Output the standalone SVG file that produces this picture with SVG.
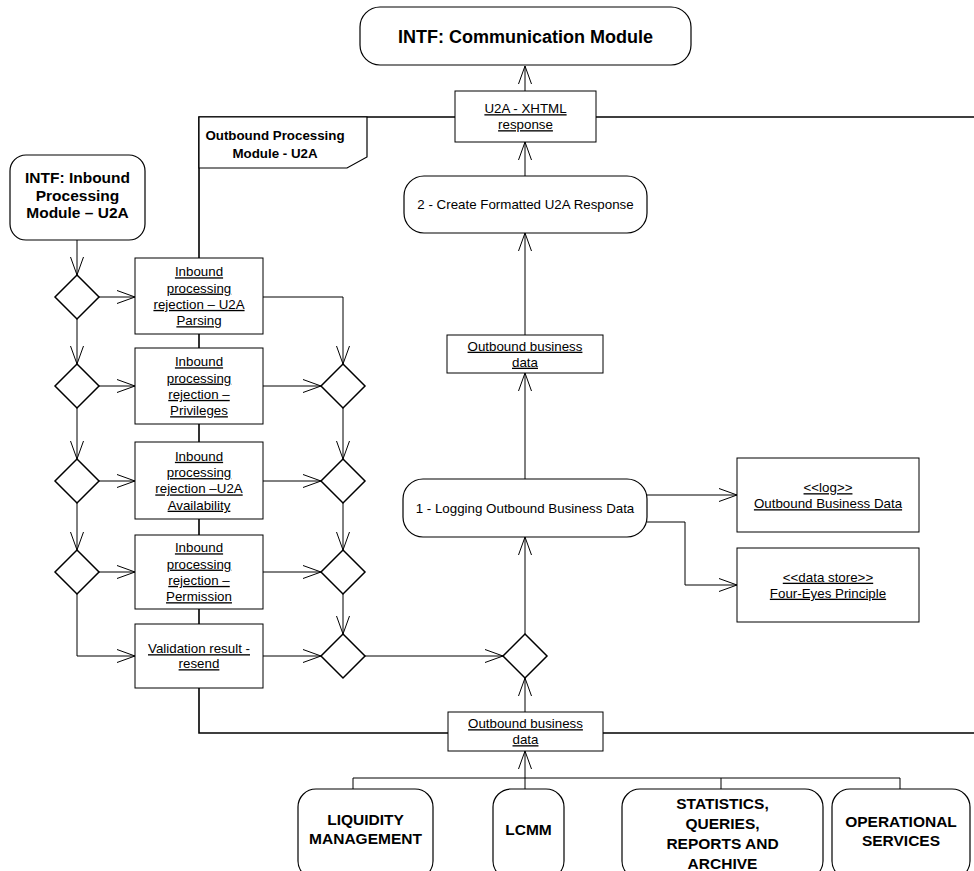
<svg xmlns="http://www.w3.org/2000/svg" width="974" height="871" viewBox="0 0 974 871">
<style>
.box{fill:#fff;stroke:#000;stroke-width:1}
.rnd{fill:#fff;stroke:#000;stroke-width:1.2}
.dia{fill:#fff;stroke:#000;stroke-width:1.5}
.frame{fill:none;stroke:#000;stroke-width:1.6}
.conn{fill:none;stroke:#000;stroke-width:1;marker-end:url(#arr)}
.line{fill:none;stroke:#000;stroke-width:1}
text{font-family:"Liberation Sans",Arial,sans-serif;text-anchor:middle;fill:#000}
.t{font-size:13.33px}
.u{text-decoration:underline}
.b{font-weight:bold;font-size:15.5px}
.tab{font-weight:bold;font-size:13.33px}
</style>
<defs>
<marker id="arr" markerUnits="userSpaceOnUse" markerWidth="20" markerHeight="16" viewBox="-19 -8 20 16" refX="0" refY="0" orient="auto" overflow="visible">
<path d="M-18,-6.5 L0,0 L-18,6.5" fill="none" stroke="#000" stroke-width="1"/>
</marker>
</defs>
<rect width="974" height="871" fill="#fff"/>

<g id="frame">
<path class="frame" d="M974,117 H199 V733 H974"/>
<path class="box" d="M199,117 H367 V157 L347,168 H199 Z" style="stroke-width:1.2"/>
<text class="tab"><tspan x="275" y="139.7">Outbound Processing</tspan><tspan x="275" y="157.7">Module - U2A</tspan></text>
</g>

<g id="connectors">
<path class="conn" d="M77,240 V275"/>
<path class="conn" d="M77,319 V364"/>
<path class="conn" d="M77,408 V459"/>
<path class="conn" d="M77,503 V550"/>
<path class="conn" d="M77,594 V656 H135"/>
<path class="conn" d="M99,297 H135"/>
<path class="conn" d="M99,386 H135"/>
<path class="conn" d="M99,481 H135"/>
<path class="conn" d="M99,572 H135"/>
<path class="conn" d="M263,297 H343 V364"/>
<path class="conn" d="M263,386 H321"/>
<path class="conn" d="M263,481 H321"/>
<path class="conn" d="M263,572 H321"/>
<path class="conn" d="M263,656 H321"/>
<path class="conn" d="M343,408 V459"/>
<path class="conn" d="M343,503 V550"/>
<path class="conn" d="M343,594 V634"/>
<path class="conn" d="M365,656 H503"/>
<path class="conn" d="M525,634 V537"/>
<path class="conn" d="M525,479 V373"/>
<path class="conn" d="M525,335 V233"/>
<path class="conn" d="M525,176 V142"/>
<path class="conn" d="M525,91 V66"/>
<path class="conn" d="M647,495 H737"/>
<path class="conn" d="M647,522 H685 V585 H737"/>
<path class="conn" d="M525,712 V678"/>
<path class="conn" d="M525,789 V751"/>
<path class="line" d="M353,789 V778 H900 V789 M721,778 V789"/>
</g>

<g id="comm">
<rect class="rnd" x="360" y="7" width="331" height="58" rx="20"/>
<text class="b" style="font-size:18px" x="525.5" y="43">INTF: Communication Module</text>
</g>

<g id="xhtml">
<rect class="box" x="455" y="91" width="141" height="51"/>
<text class="t u"><tspan x="525.5" y="113.2">U2A - XHTML</tspan><tspan x="525.5" y="129.2">response</tspan></text>
</g>

<g id="inbound">
<rect class="rnd" x="10" y="155" width="135" height="85" rx="16"/>
<text class="b"><tspan x="77.5" y="183.4">INTF: Inbound</tspan><tspan x="77.5" y="200.9">Processing</tspan><tspan x="77.5" y="218.4">Module – U2A</tspan></text>
</g>

<g id="create">
<rect class="rnd" x="404" y="176" width="243" height="57" rx="20"/>
<text class="t" x="525.5" y="209.2">2 - Create Formatted U2A Response</text>
</g>

<g id="obd-upper">
<rect class="box" x="447" y="335" width="156" height="38"/>
<text class="t u"><tspan x="525" y="350.7">Outbound business</tspan><tspan x="525" y="366.7">data</tspan></text>
</g>

<g id="logging">
<rect class="rnd" x="403" y="479" width="244" height="58" rx="20"/>
<text class="t" x="525" y="512.7">1 - Logging Outbound Business Data</text>
</g>

<g id="log">
<rect class="box" x="737" y="458" width="182" height="74"/>
<text class="t u"><tspan x="828" y="492.2">&lt;&lt;log&gt;&gt;</tspan><tspan x="828" y="508.2">Outbound Business Data</tspan></text>
</g>

<g id="foureyes">
<rect class="box" x="737" y="548" width="182" height="74"/>
<text class="t u"><tspan x="828" y="581.7">&lt;&lt;data store&gt;&gt;</tspan><tspan x="828" y="597.7">Four-Eyes Principle</tspan></text>
</g>

<g id="rej-parsing">
<rect class="box" x="135" y="258" width="128" height="76"/>
<text class="t u"><tspan x="199" y="276.3">Inbound</tspan><tspan x="199" y="292.6">processing</tspan><tspan x="199" y="308.9">rejection – U2A</tspan><tspan x="199" y="325.2">Parsing</tspan></text>
</g>

<g id="rej-privileges">
<rect class="box" x="135" y="348" width="128" height="76"/>
<text class="t u"><tspan x="199" y="366.3">Inbound</tspan><tspan x="199" y="382.6">processing</tspan><tspan x="199" y="398.9">rejection –</tspan><tspan x="199" y="415.2">Privileges</tspan></text>
</g>

<g id="rej-availability">
<rect class="box" x="135" y="442" width="128" height="77"/>
<text class="t u"><tspan x="199" y="460.8">Inbound</tspan><tspan x="199" y="477.1">processing</tspan><tspan x="199" y="493.4">rejection –U2A</tspan><tspan x="199" y="509.7">Availability</tspan></text>
</g>

<g id="rej-permission">
<rect class="box" x="135" y="535" width="128" height="74"/>
<text class="t u"><tspan x="199" y="552.3">Inbound</tspan><tspan x="199" y="568.6">processing</tspan><tspan x="199" y="584.9">rejection –</tspan><tspan x="199" y="601.2">Permission</tspan></text>
</g>

<g id="resend">
<rect class="box" x="135" y="624" width="128" height="64"/>
<text class="t u"><tspan x="199" y="653.2">Validation result -</tspan><tspan x="199" y="668.2">resend</tspan></text>
</g>

<g id="decisions-left">
<polygon class="dia" points="77,275 99,297 77,319 55,297"/>
<polygon class="dia" points="77,364 99,386 77,408 55,386"/>
<polygon class="dia" points="77,459 99,481 77,503 55,481"/>
<polygon class="dia" points="77,550 99,572 77,594 55,572"/>
</g>

<g id="decisions-right">
<polygon class="dia" points="343,364 365,386 343,408 321,386"/>
<polygon class="dia" points="343,459 365,481 343,503 321,481"/>
<polygon class="dia" points="343,550 365,572 343,594 321,572"/>
<polygon class="dia" points="343,634 365,656 343,678 321,656"/>
</g>

<g id="decision-merge">
<polygon class="dia" points="525,634 547,656 525,678 503,656"/>
</g>

<g id="obd-lower">
<rect class="box" x="448" y="712" width="155" height="39"/>
<text class="t u"><tspan x="525.5" y="728.2">Outbound business</tspan><tspan x="525.5" y="744.2">data</tspan></text>
</g>

<g id="liquidity">
<rect class="rnd" x="298" y="789" width="135" height="90" rx="18"/>
<text class="b"><tspan x="365.5" y="825.4">LIQUIDITY</tspan><tspan x="365.5" y="844.4">MANAGEMENT</tspan></text>
</g>

<g id="lcmm">
<rect class="rnd" x="493" y="789" width="71" height="90" rx="18"/>
<text class="b" x="528.5" y="835.4">LCMM</text>
</g>

<g id="statistics">
<rect class="rnd" x="622" y="789" width="201" height="90" rx="18"/>
<text class="b"><tspan x="722.5" y="809.4">STATISTICS,</tspan><tspan x="722.5" y="829.4">QUERIES,</tspan><tspan x="722.5" y="849.4">REPORTS AND</tspan><tspan x="722.5" y="869.4">ARCHIVE</tspan></text>
</g>

<g id="operational">
<rect class="rnd" x="832" y="789" width="138" height="90" rx="18"/>
<text class="b"><tspan x="901" y="827.4">OPERATIONAL</tspan><tspan x="901" y="846.4">SERVICES</tspan></text>
</g>
</svg>
